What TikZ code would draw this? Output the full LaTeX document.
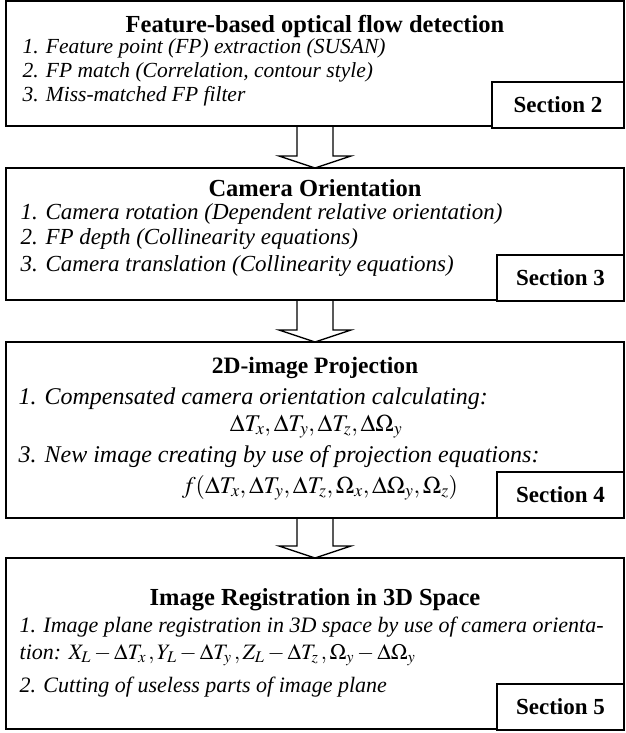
\documentclass[tikz,border=0pt]{standalone}
\usepackage{mathptmx}
\usepackage[no-math]{fontspec}
\setmainfont{Liberation Serif}
\usepackage{tikz}
\usetikzlibrary{positioning}

\begin{document}
\begin{tikzpicture}[
  x=1pt, y=1pt, line width=1.3pt, node distance=42pt,
  box/.style={draw, minimum width=618pt, inner sep=0pt, outer sep=0pt},
  ttl/.style={font=\fontsize{24.5}{28}\selectfont\bfseries, inner sep=0pt, anchor=base},
  item/.style 2 args={font=\fontsize{#1}{#2}\selectfont\itshape, inner sep=0pt, anchor=base west, align=left},
  eq/.style={font=\fontsize{24}{28}\selectfont, inner sep=0pt, anchor=base},
  sec/.style={draw, fill=white, font=\fontsize{23}{26}\selectfont\bfseries, minimum width=127pt, minimum height=46pt, inner sep=0pt, outer sep=0pt, anchor=south east},
  blk/.style={line join=miter}]
\useasboundingbox (0,0) rectangle (625,-733);
% the four stages
\node[box, minimum height=125pt, anchor=north west] (feat) at (6,-1) {};
\node[box, minimum height=132pt, below=of feat] (cam) {};
\node[box, minimum height=176pt, below=of cam] (proj) {};
\node[box, minimum height=171pt, below=40pt of proj] (reg) {};
% stage 1
\node[ttl] (featttl) at ([yshift=-32pt]feat.north) {Feature-based optical flow detection};
\node[item={21.5}{24}] (featlist) at ([shift={(16pt,-101pt)}]feat.north west) {1. Feature point (FP) extraction (SUSAN)\\
  2. FP match (Correlation, contour style)\\
  3. Miss-matched FP filter};
\node[sec, minimum width=132pt] (sec2) at ([yshift=-2pt]feat.south east) {Section 2};
% stage 2
\node[ttl] (camttl) at ([yshift=-28pt]cam.north) {Camera Orientation};
\node[item={23}{25}] (camlist) at ([shift={(14pt,-103pt)}]cam.north west) {1. Camera rotation (Dependent relative orientation)\\
  2. FP depth (Collinearity equations)\\[2pt]
  3. Camera translation (Collinearity equations)};
\node[sec] (sec3) at ([yshift=-1pt]cam.south east) {Section 3};
% stage 3
\node[ttl, font=\fontsize{23.5}{28}\selectfont\bfseries] (projttl) at ([yshift=-31pt]proj.north) {2D-image Projection};
\node[item={24}{28}] (projone) at ([shift={(12pt,-62pt)}]proj.north west) {1. Compensated camera orientation calculating:};
\node[eq] (projeqa) at ([shift={(1pt,-89pt)}]proj.north) {$\Delta T_x,\Delta T_y,\Delta T_z,\Delta\Omega_y$};
\node[item={24}{28}] (projthree) at ([shift={(12pt,-120pt)}]proj.north west) {3. New image creating by use of projection equations:};
\node[eq] (projeqb) at ([shift={(5pt,-151pt)}]proj.north) {$f(\Delta T_x,\Delta T_y,\Delta T_z,\Omega_x,\Delta\Omega_y,\Omega_z)$};
\node[sec] (sec4) at (proj.south east) {Section 4};
% stage 4
\node[ttl] (regttl) at ([yshift=-47pt]reg.north) {Image Registration in 3D Space};
\node[item={22}{26}] (reglist) at ([shift={(13pt,-134pt)}]reg.north west) {1. Image plane registration in 3D space by use of camera orienta-\\[1pt]
  tion: $X_L-\Delta T_x\,,Y_L-\Delta T_y\,,Z_L-\Delta T_z\,,\Omega_y-\Delta\Omega_y$\\[7pt]
  2. Cutting of useless parts of image plane};
\node[sec] (sec5) at ([yshift=-1pt]reg.south east) {Section 5};
% hollow arrows
\draw[blk] ([xshift=-18pt]feat.south) -- ++(0,-30) coordinate (h1) -- ++(-18,0) -- (cam.north) -- ([xshift=54pt]h1) -- ++(-18,0) -- ([xshift=18pt]feat.south);
\draw[blk] ([xshift=-18pt]cam.south) -- ++(0,-30) coordinate (h2) -- ++(-18,0) -- (proj.north) -- ([xshift=54pt]h2) -- ++(-18,0) -- ([xshift=18pt]cam.south);
\draw[blk] ([xshift=-18pt]proj.south) -- ++(0,-28) coordinate (h3) -- ++(-18,0) -- (reg.north) -- ([xshift=54pt]h3) -- ++(-18,0) -- ([xshift=18pt]proj.south);
\end{tikzpicture}
\end{document}
